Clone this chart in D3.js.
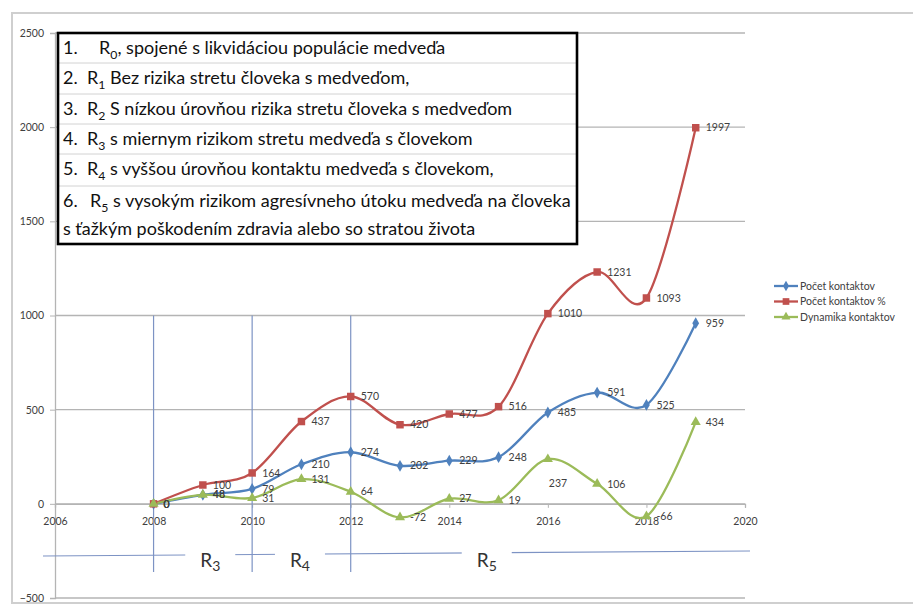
<!DOCTYPE html>
<html>
<head>
<meta charset="utf-8">
<script src="https://cdn.jsdelivr.net/npm/d3@7"></script>
<style>
  html, body { margin: 0; padding: 0; background: #fff; }
  svg { display: block; font-family: Lato, "Open Sans", sans-serif; }
</style>
</head>
<body>
<svg id="chart" width="913" height="605"></svg>
<script>
// Roky a hodnoty troch radov
const years = [2008, 2009, 2010, 2011, 2012, 2013, 2014, 2015, 2016, 2017, 2018, 2019];
const pocetKontaktov = [0, 48, 79, 210, 274, 202, 229, 248, 485, 591, 525, 959];
const pocetKontaktovPct = [0, 100, 164, 437, 570, 420, 477, 516, 1010, 1231, 1093, 1997];
const dynamikaKontaktov = [0, 48, 31, 131, 64, -72, 27, 19, 237, 106, -66, 434];
const seriesNames = ["Počet kontaktov", "Počet kontaktov %", "Dynamika kontaktov"];

const xTicks = [2006, 2008, 2010, 2012, 2014, 2016, 2018, 2020];
const yTicks = [-500, 0, 500, 1000, 1500, 2000, 2500];

// Hranice pásiem rizika a ich označenia
const regionBounds = [2008, 2010, 2012];
const regionNames = ["3", "4", "5"];

// Riadky legendy kategórií (číslo, index R, text)
const boxRows = [
  { num: "1.", sub: "0", text: ", spojené s likvidáciou populácie medveďa" },
  { num: "2.", sub: "1", text: " Bez rizika stretu človeka s medveďom," },
  { num: "3.", sub: "2", text: " S nízkou úrovňou rizika stretu človeka s medveďom" },
  { num: "4.", sub: "3", text: " s miernym rizikom stretu medveďa s človekom" },
  { num: "5.", sub: "4", text: " s vyššou úrovňou kontaktu medveďa s človekom," },
  { num: "6.", sub: "5", text: " s vysokým rizikom agresívneho útoku medveďa na človeka" }
];
const boxTail = "s ťažkým poškodením zdravia alebo so stratou života";

const svg = d3.select("#chart");
const x = d3.scaleLinear().domain([2006, 2020]).range([55, 745]);
const y = d3.scaleLinear().domain([-500, 2500]).range([598, 33]);

const gridColor = "#b4b4b4";
const labelColor = "#404040";

// Vonkajší rám grafu
svg.append("rect").attr("x", 12).attr("y", 13).attr("width", 920).attr("height", 590)
  .attr("fill", "none").attr("stroke", "#cfcfcf").attr("stroke-width", 2);

// Vodorovná mriežka
svg.append("g").selectAll("line").data(yTicks).join("line")
  .attr("x1", x(2006)).attr("x2", x(2020))
  .attr("y1", d => y(d)).attr("y2", d => y(d))
  .attr("stroke", gridColor).attr("stroke-width", 1.3);

// Os Y
const yAxis = svg.append("g").attr("transform", `translate(${x(2006)},0)`)
  .call(d3.axisLeft(y).tickValues(yTicks).tickSize(5).tickPadding(6).tickFormat(d3.format("d")));
yAxis.select(".domain").attr("stroke", gridColor).attr("stroke-width", 1.3);
yAxis.selectAll(".tick line").attr("stroke", gridColor);
yAxis.selectAll("text").attr("fill", labelColor).style("font-size", "10.5px")
  .style("font-family", "Lato, sans-serif");

// Os X na nulovej úrovni
const xAxis = svg.append("g").attr("transform", `translate(0,${y(0)})`)
  .call(d3.axisBottom(x).tickValues(xTicks).tickSize(4).tickPadding(10).tickFormat(d3.format("d")));
xAxis.select(".domain").attr("stroke", gridColor).attr("stroke-width", 1.3);
xAxis.selectAll(".tick line").attr("stroke", gridColor);
xAxis.selectAll("text").attr("fill", labelColor).style("font-size", "10.5px")
  .style("font-family", "Lato, sans-serif");

// Zvislé hranice pásiem
const bandColor = "#7d93c4";
svg.append("g").selectAll("line").data(regionBounds).join("line")
  .attr("x1", d => x(d)).attr("x2", d => x(d))
  .attr("y1", y(1000)).attr("y2", 572)
  .attr("stroke", bandColor).attr("stroke-width", 1.2);

// Vodorovná čiara pásiem s označeniami R3, R4, R5
svg.append("line").attr("x1", 43).attr("x2", 750).attr("y1", 556).attr("y2", 551)
  .attr("stroke", bandColor).attr("stroke-width", 1.2);
const regionCenters = [2009.15, 2010.97, 2014.76];
const rg = svg.append("g").selectAll("g").data(regionNames).join("g")
  .attr("transform", (d, i) => `translate(${x(regionCenters[i])},0)`);
rg.append("rect").attr("x", -25).attr("y", 545).attr("width", 50).attr("height", 16).attr("fill", "#fff");
const rt = rg.append("text").attr("y", 567).attr("text-anchor", "middle")
  .attr("fill", "#333").style("font-size", "19px");
rt.append("tspan").text("R");
rt.append("tspan").attr("dy", 4).style("font-size", "14px").text(d => d);

// Rady údajov
const series = [
  { name: seriesNames[0], values: pocetKontaktov, color: "#4f81bd", marker: d3.symbolDiamond, size: 40 },
  { name: seriesNames[1], values: pocetKontaktovPct, color: "#c0504d", marker: d3.symbolSquare, size: 56 },
  { name: seriesNames[2], values: dynamikaKontaktov, color: "#9bbb59", marker: d3.symbolTriangle, size: 44 }
];

const line = d3.line().curve(d3.curveCardinal.tension(0))
  .x((d, i) => x(years[i])).y(d => y(d));

series.forEach(s => {
  svg.append("path").attr("d", line(s.values)).attr("fill", "none")
    .attr("stroke", s.color).attr("stroke-width", 2.3);
});
series.forEach(s => {
  svg.append("g").selectAll("path").data(s.values).join("path")
    .attr("transform", (d, i) => `translate(${x(years[i])},${y(d)})`)
    .attr("d", d3.symbol().type(s.marker).size(s.size))
    .attr("fill", s.color);
});

// Popisy hodnôt vpravo od bodov
const labelOffset = (si, i) => (si === 2 && years[i] === 2016) ? [1, 24] : [10, 0];
series.forEach((s, si) => {
  svg.append("g").selectAll("text").data(s.values).join("text")
    .attr("x", (d, i) => x(years[i]) + labelOffset(si, i)[0])
    .attr("y", (d, i) => y(d) + labelOffset(si, i)[1])
    .attr("dy", "0.35em")
    .attr("fill", labelColor).style("font-size", "10.5px")
    .text(d => d);
});

// Rámček s popisom kategórií rizika
const box = svg.append("g");
box.append("rect").attr("x", 58).attr("y", 33).attr("width", 519).attr("height", 211)
  .attr("fill", "#fff");
const rowSeps = [63, 94, 124, 154, 186];
box.selectAll("line.sep").data(rowSeps).join("line").attr("class", "sep")
  .attr("x1", 59).attr("x2", 576).attr("y1", d => d).attr("y2", d => d)
  .attr("stroke", "#d2d2d2").attr("stroke-width", 1);
const rowBase = [54, 84, 115, 145, 175, 207];
const rowStart = [99, 87, 87, 87, 87, 90];
const rows = box.selectAll("g.row").data(boxRows).join("g").attr("class", "row");
const numText = rows.append("text").attr("x", 63).attr("y", (d, i) => rowBase[i])
  .attr("fill", "#111").text(d => d.num);
const rowText = rows.append("text").attr("x", (d, i) => rowStart[i]).attr("y", (d, i) => rowBase[i])
  .attr("fill", "#111");
rowText.append("tspan").text("R");
const subSpan = rowText.append("tspan").attr("class", "sub").text(d => d.sub);
const restSpan = rowText.append("tspan").text(d => d.text);
const tailText = box.append("text").attr("x", 63).attr("y", 235).attr("fill", "#111").text(boxTail);

// Veľkosť písma tak, aby šiesty riadok končil pri pravom okraji rámčeka
function setBoxFont(fs) {
  numText.style("font-size", fs + "px");
  rowText.style("font-size", fs + "px");
  tailText.style("font-size", fs + "px");
  subSpan.style("font-size", (fs * 0.68) + "px").attr("dy", fs * 0.25);
  restSpan.attr("dy", -fs * 0.25);
}
setBoxFont(16);
const row6 = rowText.filter((d, i) => i === 5).node();
const fitted = 16 * (571 - rowStart[5]) / row6.getComputedTextLength();
setBoxFont(fitted);

box.append("rect").attr("x", 58).attr("y", 33).attr("width", 519).attr("height", 211)
  .attr("fill", "none").attr("stroke", "#000").attr("stroke-width", 2.6);

// Legenda radov
const legend = svg.append("g").selectAll("g").data(series).join("g")
  .attr("transform", (d, i) => `translate(774,${286 + i * 15.5})`);
legend.append("line").attr("x1", 0).attr("x2", 24).attr("stroke", d => d.color).attr("stroke-width", 2.3);
legend.append("path").attr("transform", "translate(12,0)")
  .attr("d", d => d3.symbol().type(d.marker).size(d.size * 0.8)()).attr("fill", d => d.color);
legend.append("text").attr("x", 26).attr("dy", "0.35em").attr("fill", labelColor)
  .style("font-size", "10.5px").text(d => d.name);
</script>
</body>
</html>
